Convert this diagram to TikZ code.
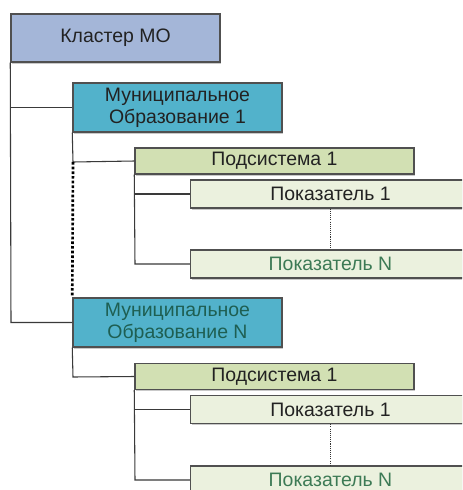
\documentclass[tikz,border=0pt]{standalone}
\usepackage{fontspec}
\setmainfont{Liberation Sans}
\usetikzlibrary{shadows}
\definecolor{clfill}{HTML}{A4B6D8}
\definecolor{mofill}{HTML}{52B2CB}
\definecolor{ssfill}{HTML}{D2E0B3}
\definecolor{pkfill}{HTML}{EBF1DE}
\definecolor{bordc}{HTML}{505050}
\definecolor{greentxt}{HTML}{3C7A55}
\definecolor{tealtxt}{HTML}{1E5F52}
\definecolor{darktxt}{HTML}{222222}
\definecolor{linec}{HTML}{3A3A3A}
\begin{document}
\begin{tikzpicture}[x=0.75pt,y=-0.75pt,
  boxbase/.style={draw=bordc, line width=1.1pt, inner sep=0pt, align=center,
    text=darktxt, font=\fontsize{14.6}{16.5}\selectfont,
    drop shadow={shadow xshift=1pt, shadow yshift=-1.2pt, opacity=0.35, fill=black!60}},
  clbox/.style={boxbase, fill=clfill, minimum width=156.75pt, minimum height=36pt},
  mobox/.style={boxbase, fill=mofill, minimum width=156.75pt, minimum height=36.75pt},
  ssbox/.style={boxbase, fill=ssfill, minimum width=209.25pt, minimum height=19.5pt},
  pkbox/.style={boxbase, fill=pkfill, minimum width=210pt, minimum height=21pt},
  conn/.style={draw=linec, line width=0.8pt},
  dots/.style={draw=black, line width=2pt, dash pattern=on 2pt off 1.5pt},
  thindots/.style={draw=black!80, line width=0.6pt, dash pattern=on 0.8pt off 0.8pt}]
\fill[white] (0,0) rectangle (462,490);
\useasboundingbox (0,0) rectangle (462,490);
\begin{scope}
\clip (0,0) rectangle (462,490);
\coordinate (l1) at (11,107.5);
\coordinate (l2) at (11,322.5);
\coordinate (m1a) at (73,162);
\coordinate (s1a) at (135,194);
\coordinate (s1b) at (135,264);
\coordinate (m2a) at (73,377);
\coordinate (s2a) at (135,409.5);
\coordinate (s2b) at (135,480);

\node[clbox] (cl) at (115.5,38) {Кластер МО};
\node[mobox] (mo1) at (177.5,107.5) {Муниципальное\\Образование 1};
\node[ssbox] (ss1) at (274.5,161) {Подсистема 1};
\node[pkbox] (pk1) at (330.5,194) {Показатель 1};
\node[pkbox, text=greentxt] (pkn) at (330.5,264) {Показатель N};
\node[mobox, text=tealtxt] (mon) at (177.5,322.5) {Муниципальное\\Образование N};
\node[ssbox] (ss2) at (274.5,376.5) {Подсистема 1};
\node[pkbox] (pk2) at (330.5,409.5) {Показатель 1};
\node[pkbox, text=greentxt] (pkn2) at (330.5,480) {Показатель N};

\draw[conn] (cl.south west) -- (l2) -- (mon.west |- l2);
\draw[conn] (l1) -- (mo1.west);
\draw[conn] (mo1.south west) -- (m1a) -- (ss1.west);
\draw[dots] (m1a) -- (mon.north west);
\draw[conn] (ss1.south west) -- (s1b) -- (pkn.west);
\draw[conn] (s1a) -- (pk1.west);
\draw[thindots] (pk1.south) -- (pkn.north);
\draw[conn] (mon.south west) -- (m2a) -- (ss2.west);
\draw[conn] (ss2.south west) -- (s2b) -- (pkn2.west);
\draw[conn] (s2a) -- (pk2.west);
\draw[thindots] (pk2.south) -- (pkn2.north);
\end{scope}
\end{tikzpicture}
\end{document}
